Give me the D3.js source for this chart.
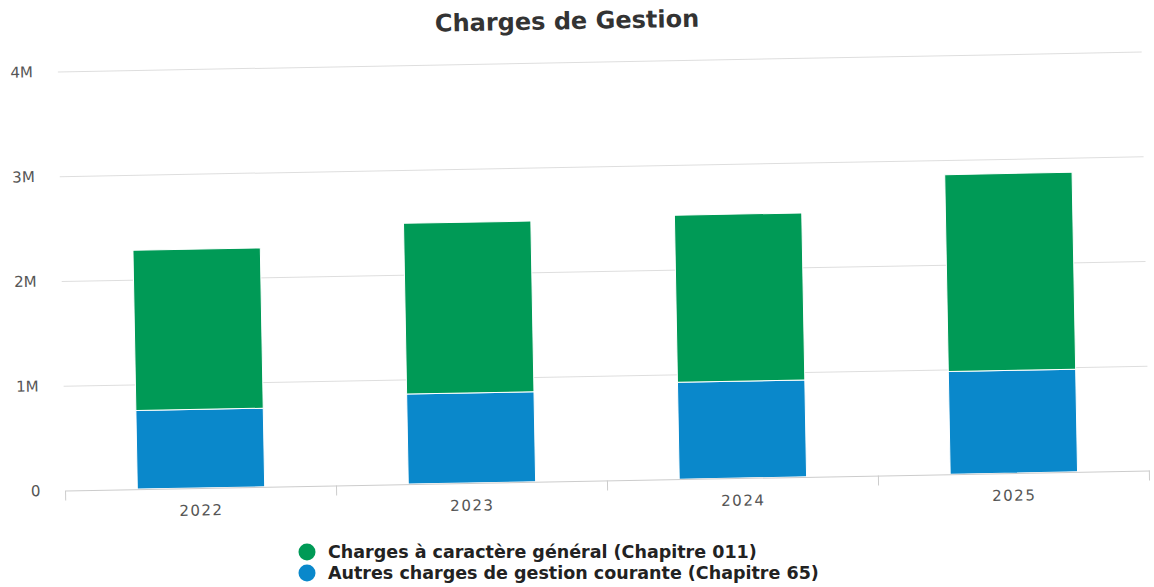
<!DOCTYPE html>
<html>
<head>
<meta charset="utf-8">
<script src="https://cdn.jsdelivr.net/npm/d3@7"></script>
<style>
  body { margin: 0; background: #fff; }
  .tick text { font-family: "DejaVu Sans", sans-serif; }
</style>
</head>
<body>
<div id="chart"></div>
<script>
const years = ['2022', '2023', '2024', '2025'];
const chapitre011 = [1530000, 1630000, 1595000, 1880000];
const chapitre65 = [750000, 860000, 925000, 980000];
const seriesNames = ['Charges à caractère général (Chapitre 011)', 'Autres charges de gestion courante (Chapitre 65)'];
const seriesColors = ['#009a56', '#0a88cb'];
const yTicks = [0, 1000000, 2000000, 3000000, 4000000];
const yTickLabels = ['0', '1M', '2M', '3M', '4M'];

const W = 1154, H = 587;
const margin = {top: 62, right: 8, bottom: 106, left: 62};
const w = W - margin.left - margin.right;
const h = H - margin.top - margin.bottom;

const svg = d3.select('#chart').append('svg')
  .attr('width', W)
  .attr('height', H);

// the scan is a little tilted
const page = svg.append('g')
  .attr('transform', `rotate(-1.05, ${W / 2}, ${H / 2})`);

page.append('text')
  .attr('x', W / 2 - 5)
  .attr('y', 29)
  .attr('text-anchor', 'middle')
  .style('font-family', '"DejaVu Sans", sans-serif')
  .style('font-weight', 'bold')
  .style('font-size', '24px')
  .style('fill', '#333')
  .text('Charges de Gestion');

const chart = page.append('g')
  .attr('transform', `translate(${margin.left}, ${margin.top})`);

const x = d3.scaleBand().domain(years).range([0, w]).paddingInner(0.53).paddingOuter(0.265);
const xTicks = d3.scaleBand().domain(years).range([0, w]);
const y = d3.scaleLinear().domain([0, 4000000]).range([h, 0]);

// grid + y labels
const yAxis = chart.append('g')
  .call(d3.axisLeft(y).tickValues(yTicks).tickSize(-w).tickFormat((d, i) => yTickLabels[i]));
yAxis.select('.domain').remove();
yAxis.selectAll('.tick line').style('stroke', '#dedede');
yAxis.selectAll('.tick').filter(d => d === 0).select('line').remove();
yAxis.selectAll('.tick text')
  .attr('x', -25)
  .style('font-size', '15px')
  .style('fill', '#555');

// stacked bars
const rows = years.map((yr, i) => ({year: yr, c65: chapitre65[i], c011: chapitre011[i]}));
const stacked = d3.stack().keys(['c65', 'c011'])(rows);
const colorOf = {c65: seriesColors[1], c011: seriesColors[0]};

chart.selectAll('.serie')
  .data(stacked)
  .join('g')
  .attr('class', 'serie')
  .style('fill', d => colorOf[d.key])
  .selectAll('rect')
  .data(d => d)
  .join('rect')
  .attr('x', d => x(d.data.year))
  .attr('width', x.bandwidth())
  .attr('y', d => y(d[1]))
  .attr('height', d => y(d[0]) - y(d[1]))
  .style('stroke', '#fff')
  .style('stroke-width', 1);

// x axis
const xAxis = chart.append('g')
  .attr('transform', `translate(0, ${h})`)
  .call(d3.axisBottom(xTicks).tickSize(0).tickPadding(17));
xAxis.select('.domain').style('stroke', '#ccc');
xAxis.selectAll('.tick text')
  .style('font-size', '15px')
  .style('letter-spacing', '1.5px')
  .style('fill', '#555');
xAxis.selectAll('.sep')
  .data(d3.range(years.length + 1))
  .join('line')
  .attr('class', 'sep')
  .attr('x1', i => i * xTicks.step())
  .attr('x2', i => i * xTicks.step())
  .attr('y1', 0)
  .attr('y2', 10)
  .style('stroke', '#ccc');

// legend (kept level)
const legend = svg.append('g')
  .attr('transform', `translate(307, 552)`);
const items = legend.selectAll('g')
  .data(seriesNames)
  .join('g')
  .attr('transform', (d, i) => `translate(0, ${i * 21})`);
items.append('circle')
  .attr('r', 8.5)
  .style('fill', (d, i) => seriesColors[i]);
items.append('text')
  .attr('x', 21)
  .attr('y', 6)
  .style('font-family', '"DejaVu Sans", sans-serif')
  .style('font-weight', 'bold')
  .style('font-size', '17.5px')
  .style('fill', '#222')
  .text(d => d);
</script>
</body>
</html>
